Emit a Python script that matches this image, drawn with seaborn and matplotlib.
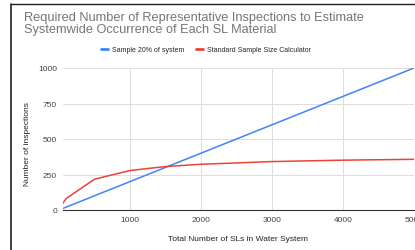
import pandas as pd
import matplotlib.pyplot as plt
import seaborn as sns
from matplotlib.lines import Line2D

sns.set_theme(style="whitegrid")
plt.rcParams['font.family'] = ['Liberation Sans', 'DejaVu Sans']

# data
total_sls = [50, 100, 500, 1000, 1500, 2000, 3000, 4000, 5000]
sample_20pct = [10, 20, 100, 200, 300, 400, 600, 800, 1000]
standard_calc = [44, 80, 217, 278, 306, 322, 341, 351, 357]
series_names = ["Sample 20% of system", "Standard Sample Size Calculator"]
series_colors = ["#4285F4", "#EA4335"]
y_ticks = [0, 250, 500, 750, 1000]
x_ticks = [1000, 2000, 3000, 4000, 5000]

df = pd.DataFrame({
    "SLs": total_sls * 2,
    "Inspections": sample_20pct + standard_calc,
    "Series": [series_names[0]] * len(total_sls) + [series_names[1]] * len(total_sls),
})

fig = plt.figure(figsize=(4.15, 2.51), dpi=100)
ax = fig.add_axes([62.5 / 415, 40 / 251, 351.5 / 415, 142 / 251])

sns.lineplot(data=df, x="SLs", y="Inspections", hue="Series",
             palette=series_colors, linewidth=1.1, ax=ax, legend=False)

ax.set_xlim(50, 5000)
ax.set_ylim(0, 1000)
ax.set_xticks(x_ticks)
ax.set_yticks(y_ticks)
ax.grid(color="#dddddd", linewidth=0.7)
for s in ["top", "right", "left"]:
    ax.spines[s].set_visible(False)
ax.spines["bottom"].set_color("#333333")
ax.spines["bottom"].set_linewidth(0.8)
ax.tick_params(axis="both", length=0, labelsize=6, colors="#444444", pad=4)
ax.set_xlabel("Total Number of SLs in Water System", fontsize=6, color="#222222", labelpad=9)
ax.set_ylabel("Number of inspections", fontsize=6, color="#222222")
ax.yaxis.set_label_coords(-32 / 351.5, 0.47)

# title
fig.text(24 / 415, 1 - 12 / 251,
         "Required Number of Representative Inspections to Estimate\nSystemwide Occurrence of Each SL Material",
         fontsize=9.2, color="#757575", va="top", ha="left", linespacing=0.95)

# legend
handles = [Line2D([0], [0], color=c, linewidth=2) for c in series_colors]
fig.legend(handles, series_names, loc="center", bbox_to_anchor=(206 / 415, 1 - 51 / 251),
           ncol=2, frameon=False, fontsize=5.0, handlelength=1.0, handletextpad=0.6,
           columnspacing=1.6)

# screenshot frame
fig.add_artist(Line2D([10.5 / 415, 10.5 / 415], [0, 1 - 5 / 251], color="#222222", linewidth=1.2))
fig.add_artist(Line2D([10.5 / 415, 1], [1 - 5 / 251, 1 - 5 / 251], color="#222222", linewidth=1.0))

fig.savefig("out.png", dpi=100)
